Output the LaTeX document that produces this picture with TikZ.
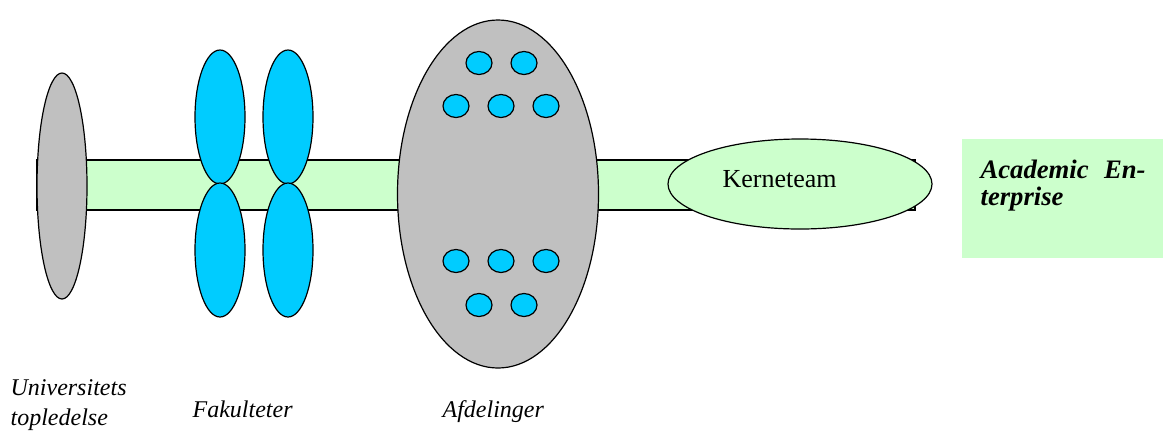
\documentclass[tikz,border=0pt]{standalone}
\usepackage{fontspec}
\setmainfont{Liberation Serif}
\usetikzlibrary{shapes.geometric}

\definecolor{unigray}{HTML}{C0C0C0}
\definecolor{fakblue}{HTML}{00CCFF}
\definecolor{kgreen}{HTML}{CCFFCC}

\begin{document}
\begin{tikzpicture}[x=0.75pt,y=-0.75pt,line width=0.9pt,inner sep=0pt]
  \tikzstyle{blob}=[ellipse,draw=black]
  \tikzstyle{unit}=[blob,fill=fakblue,minimum width=50*0.75pt,minimum height=134*0.75pt]
  \tikzstyle{dept}=[blob,fill=fakblue,minimum width=26*0.75pt,minimum height=23*0.75pt]
  \tikzstyle{label}=[font=\fontsize{18}{22.5}\selectfont\itshape,anchor=base west,align=left]

  \useasboundingbox (0,0) rectangle (1163,433);

  % the green axis
  \node[draw,fill=kgreen,minimum width=878*0.75pt,minimum height=50*0.75pt] (axis) at (476,185) {};

  \node[blob,fill=unigray,minimum width=50*0.75pt,minimum height=226*0.75pt] (top) at (62,186) {};

  \node[unit] (f1) at (220,117) {};
  \node[unit] (f2) at (288,117) {};
  \node[unit] (f3) at (220,250) {};
  \node[unit] (f4) at (288,250) {};

  \node[blob,fill=unigray,minimum width=201*0.75pt,minimum height=348*0.75pt] (afd) at (498,194) {};

  \node[dept] (d1)  at (479,63)  {};
  \node[dept] (d2)  at (524,63)  {};
  \node[dept] (d3)  at (456,106) {};
  \node[dept] (d4)  at (501,106) {};
  \node[dept] (d5)  at (546,106) {};
  \node[dept] (d6)  at (456,261) {};
  \node[dept] (d7)  at (501,261) {};
  \node[dept] (d8)  at (546,261) {};
  \node[dept] (d9)  at (479,305) {};
  \node[dept] (d10) at (524,305) {};

  \node[blob,fill=kgreen,minimum width=264*0.75pt,minimum height=90*0.75pt] (kerne) at (800,184) {};
  \node[font=\fontsize{19.5}{22}\selectfont,anchor=base west] (kernetxt) at (722,187) {Kerneteam};

  % academic enterprise
  \node[fill=kgreen,minimum width=201*0.75pt,minimum height=119*0.75pt] (acad) at (1062,198) {};
  \node[font=\fontsize{20}{20.3}\selectfont\bfseries\itshape,text width=165*0.75pt,align=left,anchor=base west]
    (acadtxt) at (980,178) {Academic\hfill En-\\terprise};

  \node[label] (lbtop) at (10,425) {Universitets\\topledelse};
  \node[label] (lbfak) at (192,417) {Fakulteter};
  \node[label] (lbafd) at (442,417) {Afdelinger};
\end{tikzpicture}
\end{document}
